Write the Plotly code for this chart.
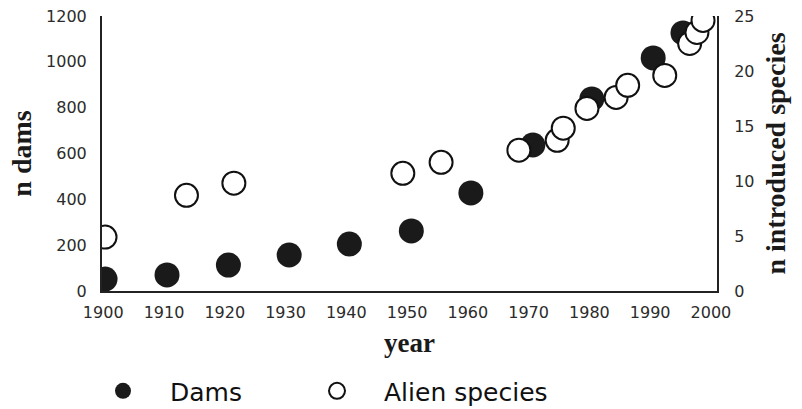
import plotly.graph_objects as go

# Dams (left axis)
dam_years = [1900.3, 1910.5, 1920.6, 1930.6, 1940.5, 1950.7, 1960.5, 1970.7, 1980.4, 1990.5, 1995.4]
dam_counts = [52, 70, 113, 157, 205, 262, 428, 637, 838, 1017, 1126]

# Alien species (right axis)
alien_years = [1900.3, 1913.7, 1921.5, 1949.3, 1955.6, 1968.4, 1974.7, 1975.7, 1979.6,
               1984.4, 1986.3, 1992.4, 1996.5, 1997.7, 1998.7]
alien_counts = [4.9, 8.7, 9.8, 10.7, 11.7, 12.8, 13.7, 14.8, 16.6, 17.6, 18.7, 19.6,
                22.5, 23.5, 24.6]

x_ticks = list(range(1900, 2001, 10))
left_ticks = [0, 200, 400, 600, 800, 1000, 1200]
right_ticks = [0, 5, 10, 15, 20, 25]

tick_font = dict(family="DejaVu Sans", size=16, color="#2b2b2b")
title_font = dict(family="Liberation Serif", size=28, color="#1a1a1a")
legend_font = dict(family="DejaVu Sans", size=25, color="#111111")

fig = go.Figure()
fig.add_trace(go.Scatter(
    x=dam_years, y=dam_counts, mode="markers", name="Dams",
    marker=dict(size=25, color="#1a1a1a", line=dict(width=0)),
    yaxis="y", legend="legend",
))
fig.add_trace(go.Scatter(
    x=alien_years, y=alien_counts, mode="markers", name="Alien species",
    marker=dict(size=23, color="white", line=dict(width=2, color="#111111")),
    yaxis="y2", legend="legend2",
))

fig.update_layout(
    width=802, height=409,
    margin=dict(l=102, r=85, t=16, b=118, autoexpand=False),
    plot_bgcolor="white", paper_bgcolor="white",
    xaxis=dict(
        range=[1899.8, 2001.0], tickvals=x_ticks, ticks="",
        showgrid=False, zeroline=False, showline=True, linewidth=2, linecolor="#222222",
        tickfont=tick_font, ticklabelstandoff=6,
        title=dict(text="<b>year</b>", font=dict(family="Liberation Serif", size=27, color="#1a1a1a"), standoff=12),
    ),
    yaxis=dict(
        range=[0, 1200], tickvals=left_ticks, ticks="",
        showgrid=False, zeroline=False, showline=True, linewidth=2, linecolor="#222222",
        tickfont=tick_font, ticklabelstandoff=10,
        title=dict(text="<b>n dams</b>", font=title_font, standoff=6),
    ),
    yaxis2=dict(
        range=[0, 25], tickvals=right_ticks, ticks="", overlaying="y", side="right",
        showgrid=False, zeroline=False, showline=True, linewidth=2, linecolor="#222222",
        tickfont=tick_font, ticklabelstandoff=12,
        title=dict(text="<b>n introduced species</b>", font=title_font, standoff=12),
    ),
    showlegend=True,
    legend=dict(
        orientation="h", x=-0.0423, xanchor="left", y=-0.364, yanchor="middle",
        font=legend_font, itemwidth=84, bgcolor="rgba(0,0,0,0)",
    ),
    legend2=dict(
        orientation="h", x=0.3057, xanchor="left", y=-0.364, yanchor="middle",
        font=legend_font, itemwidth=84, bgcolor="rgba(0,0,0,0)",
    ),
)

fig.write_html("out.html")
